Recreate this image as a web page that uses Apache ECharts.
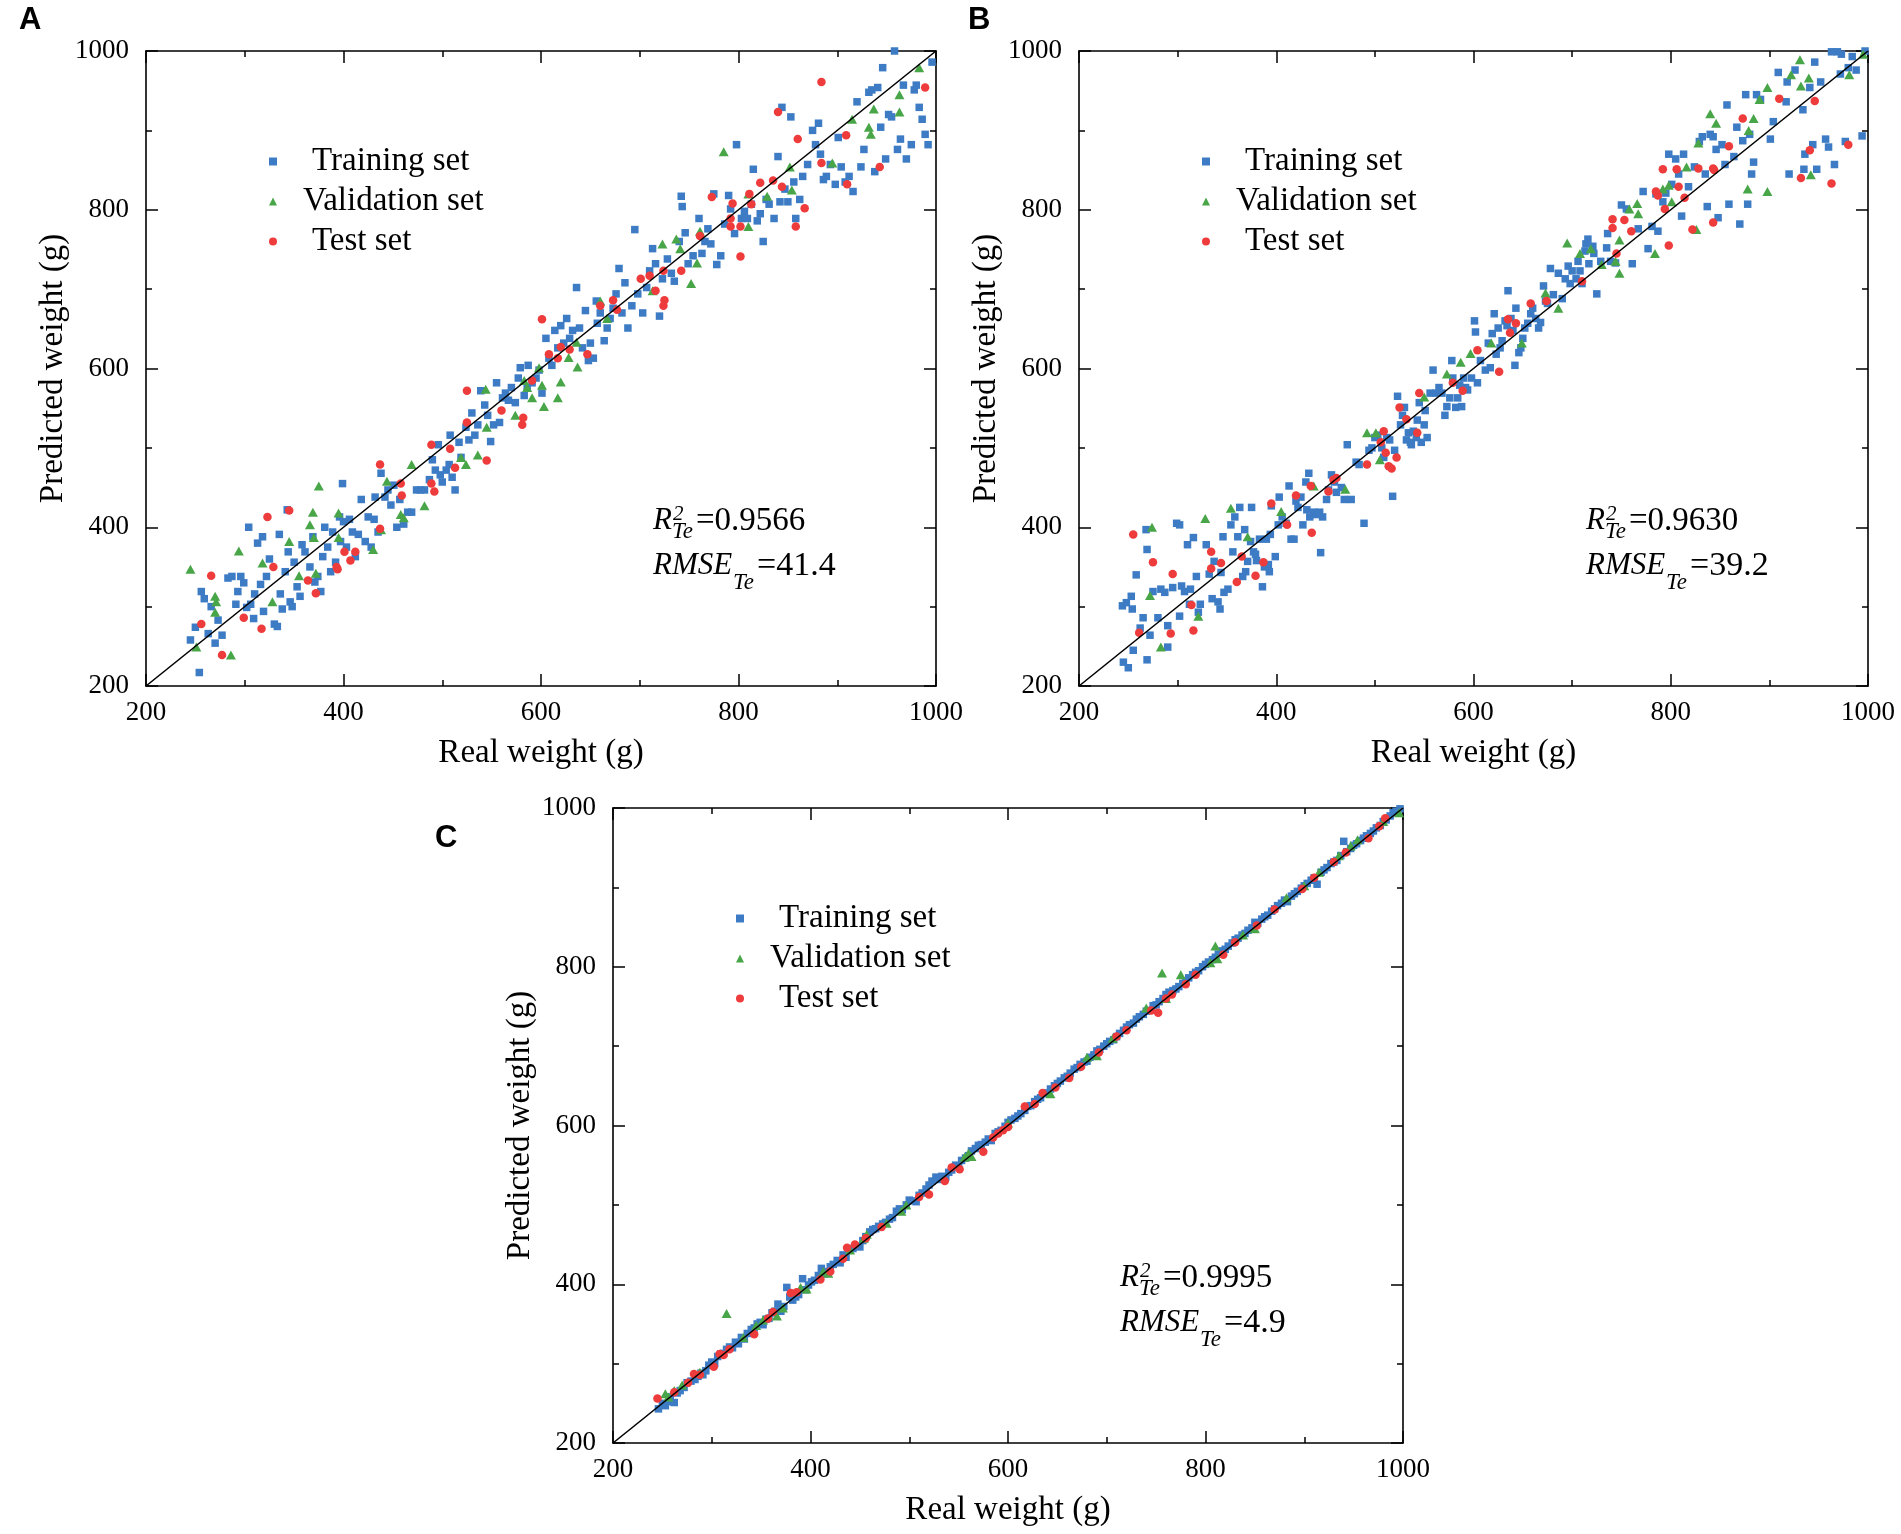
<!DOCTYPE html>
<html>
<head>
<meta charset="utf-8">
<title>Real vs predicted weight</title>
<script src="https://cdn.jsdelivr.net/npm/echarts@6.0.0/dist/echarts.min.js"></script>
<style>
  html, body { margin: 0; padding: 0; background: #fff; }
  #chart { width: 1901px; height: 1534px; }
</style>
</head>
<body>
<div id="chart"></div>
<script>
// axis range shared by all three panels
const axisMin = 200
const axisMax = 1000
const axisStep = 200
const identityLine = [[200, 200], [1000, 1000]]

const panelLabels = ['A', 'B', 'C']
const seriesNames = ['Training set', 'Validation set', 'Test set']
const r2Values = ['0.9566', '0.9630', '0.9995']
const rmseValues = ['41.4', '39.2', '4.9']

// ---- panel A : [real, predicted]
const trainA = [[245,258],[254,217],[250,274],[256,319],[259,310],[263,266],[266,300],[270,254],[273,283],[277,264],[283,336],[287,338],[291,303],[293,319],[296,338],[299,330],[302,299],[304,400],[306,303],[309,285],[310,316],[313,380],[316,328],[318,388],[319,294],[322,338],[325,360],[330,278],[333,275],[335,391],[336,316],[338,297],[341,344],[343,422],[344,369],[346,306],[348,300],[350,356],[353,325],[356,313],[358,378],[361,369],[366,350],[369,388],[371,331],[374,338],[377,319],[379,363],[381,400],[384,375],[387,344],[389,394],[392,356],[396,413],[397,382],[399,455],[400,407],[403,375],[406,410],[409,394],[412,363],[415,391],[418,435],[422,382],[425,413],[428,375],[431,410],[432,438],[435,394],[438,468],[442,438],[445,447],[448,428],[451,453],[454,400],[457,435],[461,404],[465,419],[469,419],[474,447],[478,447],[482,447],[487,460],[490,485],[493,472],[496,504],[498,466],[500,457],[504,472],[507,479],[508,516],[510,463],[513,447],[517,507],[519,488],[524,526],[527,510],[530,544],[533,516],[536,529],[539,572],[543,554],[546,541],[549,508],[552,529],[555,582],[558,532],[561,563],[564,569],[567,560],[570,576],[574,557],[577,588],[579,601],[583,566],[586,576],[587,604],[591,582],[595,588],[598,598],[601,569],[605,638],[608,613],[611,604],[614,648],[617,626],[620,654],[623,632],[626,663],[629,638],[632,648],[636,702],[639,651],[642,626],[645,673],[648,610],[650,632],[653,613],[656,685],[657,657],[660,670],[664,635],[667,651],[670,663],[673,676],[676,694],[679,726],[682,670],[685,708],[688,651],[692,679],[695,775],[698,694],[703,670],[707,702],[710,723],[713,751],[716,732],[720,666],[723,713],[728,738],[732,720],[735,710],[740,760],[742,817],[743,804],[746,771],[749,732],[754,742],[760,789],[763,745],[766,760],[769,776],[772,757],[775,820],[778,731],[782,742],[786,782],[790,818],[792,801],[796,770],[798,882],[803,789],[806,798],[809,789],[813,807],[815,851],[819,786],[822,795],[825,760],[828,813],[831,807],[836,789],[840,867],[842,810],[844,929],[847,826],[850,810],[853,917],[856,835],[858,789],[862,813],[865,842],[870,857],[875,900],[878,882],[881,909],[883,870],[886,838],[889,842],[893,857],[898,832],[901,891],[904,854],[908,835],[912,842],[916,823],[920,936],[924,854],[927,876],[932,948],[935,951],[938,848],[941,954],[944,904],[946,979],[949,864],[952,920],[955,917],[958,1000],[961,876],[964,889],[967,957],[970,864],[975,882],[978,951],[980,957],[983,929],[986,914],[989,895],[992,882],[996,986]]
const valA = [[245,347],[251,249],[270,313],[271,306],[270,293],[286,239],[294,370],[318,355],[328,306],[345,382],[355,339],[366,403],[369,419],[370,387],[372,342],[375,452],[395,418],[395,387],[430,372],[438,397],[444,458],[458,416],[461,412],[469,479],[482,427],[519,488],[524,479],[536,491],[544,574],[545,526],[574,541],[583,585],[586,576],[591,563],[598,601],[601,579],[603,552],[617,563],[620,583],[628,614],[636,633],[637,602],[660,685],[667,663],[713,698],[723,757],[737,763],[741,751],[752,707],[758,733],[761,773],[785,873],[810,779],[810,820],[829,817],[852,854],[854,825],[895,859],[915,914],[932,904],[934,895],[937,927],[963,945],[963,923],[983,979]]
const testA = [[256,278],[266,339],[277,239],[299,286],[317,272],[323,413],[329,350],[345,421],[364,333],[372,317],[393,350],[394,347],[401,369],[407,358],[412,369],[437,398],[437,479],[458,455],[459,440],[489,504],[489,455],[492,445],[508,499],[513,475],[525,572],[525,532],[545,484],[560,547],[581,529],[582,538],[591,585],[601,662],[608,618],[617,613],[620,627],[629,624],[647,618],[660,679],[673,686],[677,674],[701,713],[710,717],[716,698],[724,723],[724,679],[725,686],[742,723],[761,767],[773,816],[792,789],[792,779],[794,808],[802,779],[802,741],[811,820],[813,807],[822,834],[835,837],[840,923],[844,829],[858,779],[860,889],[867,802],[884,961],[884,859],[909,894],[910,832],[943,854],[989,954]]

// ---- panel B
const trainB = [[244,301],[245,230],[248,305],[250,223],[253,313],[254,297],[255,245],[258,340],[262,273],[265,286],[268,397],[269,372],[269,233],[272,264],[275,319],[280,286],[283,322],[287,318],[290,276],[290,249],[295,324],[299,405],[302,403],[302,288],[304,326],[307,319],[310,378],[312,303],[313,322],[316,387],[319,338],[321,293],[323,303],[329,378],[332,341],[335,310],[337,357],[341,306],[343,297],[344,343],[346,388],[347,318],[351,322],[354,403],[356,369],[358,413],[361,388],[363,425],[366,338],[368,397],[369,344],[371,357],[374,382],[375,425],[377,369],[379,366],[380,358],[383,385],[386,325],[388,350],[390,385],[392,353],[393,344],[394,391],[395,427],[399,363],[402,403],[403,438],[406,413],[410,405],[413,452],[415,385],[418,385],[420,433],[422,425],[425,438],[427,403],[430,457],[431,422],[433,468],[434,413],[438,419],[441,416],[444,419],[445,368],[447,413],[451,435],[453,447],[456,466],[459,457],[461,444],[466,450],[469,435],[472,504],[476,435],[481,482],[484,479],[489,405],[494,497],[497,500],[500,513],[503,516],[507,500],[509,488],[512,513],[515,510],[518,439],[520,497],[523,565],[526,529],[528,541],[530,551],[532,510],[534,519],[536,507],[537,504],[539,521],[542,513],[543,535],[545,557],[547,507],[550,529],[551,547],[553,513],[556,569],[559,598],[562,569],[565,576],[568,569],[571,541],[573,552],[576,563],[578,610],[579,588],[582,551],[584,563],[586,579],[588,552],[590,588],[592,576],[594,573],[598,588],[601,660],[602,646],[604,582],[607,610],[612,598],[615,632],[617,601],[619,644],[621,669],[623,618],[625,651],[627,626],[629,635],[632,660],[634,654],[635,698],[638,663],[640,648],[642,604],[643,676],[646,620],[648,626],[650,638],[652,651],[655,657],[658,669],[660,676],[663,663],[666,651],[668,658],[671,704],[673,685],[675,682],[678,726],[681,693],[686,720],[690,688],[693,713],[696,729],[698,707],[700,723],[704,713],[706,735],[708,723],[710,707],[713,748],[714,757],[716,763],[717,732],[721,754],[722,745],[725,694],[729,735],[735,752],[736,770],[739,735],[744,733],[750,806],[755,801],[761,732],[767,776],[772,823],[777,751],[781,779],[785,820],[787,773],[792,810],[795,821],[798,870],[801,832],[805,864],[808,845],[811,792],[813,870],[818,829],[824,854],[829,886],[832,892],[835,845],[837,804],[840,895],[843,892],[846,876],[848,790],[852,882],[855,857],[857,932],[859,807],[864,867],[867,904],[870,782],[873,887],[876,945],[878,807],[880,895],[882,845],[884,860],[887,945],[891,939],[901,889],[904,911],[909,973],[917,936],[920,845],[918,961],[926,976],[934,926],[935,851],[936,870],[941,954],[944,882],[946,986],[948,851],[952,961],[957,889],[960,879],[963,999],[966,857],[969,999],[972,971],[973,996],[977,886],[980,979],[984,993],[988,976],[994,893],[997,1000]]
const valB = [[272,314],[274,400],[283,249],[321,288],[328,411],[354,424],[371,388],[405,420],[438,452],[470,448],[492,519],[501,519],[505,485],[550,564],[573,593],[587,608],[597,619],[618,632],[649,632],[673,695],[686,676],[695,758],[708,745],[719,751],[730,731],[744,735],[748,762],[748,720],[758,801],[766,808],[767,795],[784,745],[792,826],[798,831],[801,810],[816,854],[826,775],[828,884],[840,921],[846,909],[878,826],[879,900],[884,915],[890,939],[898,823],[898,954],[922,970],[931,989],[932,956],[940,966],[942,844],[981,970],[995,996]]
const testB = [[255,391],[261,267],[275,356],[293,266],[295,341],[314,302],[316,270],[334,369],[334,348],[344,355],[360,331],[365,363],[379,339],[387,356],[395,430],[411,403],[420,440],[436,393],[435,452],[453,445],[458,460],[461,462],[492,479],[506,507],[509,521],[511,494],[514,477],[517,474],[522,488],[525,551],[532,536],[543,519],[545,569],[579,582],[589,572],[604,623],[626,596],[635,662],[637,645],[643,657],[658,682],[674,685],[710,710],[741,788],[741,777],[745,745],[753,787],[760,773],[785,823],[787,818],[792,851],[794,801],[798,755],[806,851],[808,829],[814,815],[822,775],[828,852],[843,852],[844,850],[843,784],[859,880],[873,915],[910,940],[932,840],[941,875],[946,937],[963,833],[980,882]]

// ---- panel C
const trainC = [[246,243],[250,250],[253,247],[257,252],[258,258],[262,251],[265,263],[268,266],[272,270],[275,276],[279,278],[283,280],[286,284],[289,288],[291,286],[294,291],[297,298],[300,302],[303,300],[306,309],[309,312],[312,313],[315,318],[318,321],[321,320],[324,327],[327,325],[330,333],[333,331],[336,338],[340,343],[343,345],[346,350],[349,352],[352,349],[355,356],[358,357],[361,364],[364,366],[367,375],[370,366],[373,372],[376,396],[379,384],[382,380],[385,384],[388,387],[392,407],[395,393],[398,399],[401,403],[404,405],[408,411],[411,420],[414,413],[417,416],[420,422],[423,425],[427,430],[430,427],[433,437],[436,434],[440,443],[443,445],[446,448],[450,447],[453,455],[456,460],[460,466],[463,469],[466,470],[469,473],[473,476],[476,478],[480,482],[483,484],[487,492],[490,495],[493,494],[497,500],[500,506],[503,505],[507,504],[510,512],[513,515],[517,520],[520,525],[523,530],[527,535],[530,532],[533,536],[537,535],[540,541],[543,544],[547,550],[550,548],[553,556],[557,559],[560,562],[563,568],[567,571],[570,575],[573,576],[577,579],[580,583],[583,581],[587,590],[590,592],[593,594],[597,599],[600,604],[603,607],[607,609],[610,612],[613,615],[617,619],[620,624],[623,625],[627,630],[630,633],[633,635],[637,640],[640,641],[643,646],[647,650],[650,653],[653,656],[657,660],[660,662],[663,666],[667,671],[670,673],[673,677],[677,680],[680,681],[683,686],[687,689],[690,694],[693,696],[697,700],[700,703],[703,706],[707,708],[710,712],[713,716],[717,720],[720,724],[723,727],[727,729],[730,734],[733,737],[737,740],[740,744],[743,745],[747,751],[750,752],[753,756],[757,760],[760,765],[763,768],[767,770],[770,772],[773,775],[777,779],[780,782],[783,786],[787,790],[790,793],[793,795],[797,800],[800,803],[803,806],[807,809],[810,812],[813,816],[817,820],[820,822],[823,826],[827,830],[830,834],[833,836],[837,840],[840,842],[843,846],[847,849],[850,856],[853,855],[857,860],[860,863],[863,865],[867,870],[870,873],[873,877],[877,880],[880,884],[883,882],[887,889],[890,892],[893,895],[897,899],[900,902],[903,905],[907,909],[910,912],[913,904],[917,919],[920,922],[923,925],[927,930],[930,932],[933,934],[937,940],[940,958],[943,945],[947,949],[950,953],[953,955],[957,959],[960,962],[963,965],[967,968],[970,971],[973,975],[977,978],[980,983],[983,985],[987,990],[990,994],[993,996],[997,999]]
const valC = [[253,262],[256,258],[262,266],[270,273],[288,289],[315,363],[332,333],[345,348],[352,355],[366,360],[372,370],[390,396],[396,394],[413,416],[418,414],[440,443],[454,458],[457,463],[477,477],[492,492],[497,500],[556,560],[560,565],[563,561],[600,603],[643,640],[680,686],[690,688],[706,710],[740,748],[756,792],[760,760],[775,790],[805,805],[810,826],[812,810],[838,840],[850,848],[882,887],[900,902],[915,919],[935,940],[947,952],[954,960],[980,983],[996,994]]
const testC = [[245,256],[262,264],[276,276],[282,287],[288,286],[302,296],[308,312],[312,311],[318,318],[343,337],[357,357],[362,365],[380,389],[386,390],[410,406],[420,416],[433,432],[437,446],[445,450],[456,458],[472,472],[510,510],[520,513],[536,530],[543,547],[551,545],[575,567],[585,585],[590,590],[595,594],[600,598],[617,624],[627,627],[635,641],[648,648],[662,660],[674,674],[692,692],[710,712],[720,720],[745,745],[752,742],[760,760],[766,765],[780,778],[790,790],[818,815],[830,831],[852,852],[870,872],[898,898],[910,912],[930,932],[942,944],[965,962],[976,977],[982,987]]

const panelSeries = [
  [trainA, valA, testA],
  [trainB, valB, testB],
  [trainC, valC, testC]
]

// 画布布局（像素）
const panelBoxes = [
  { left: 146, top: 51, width: 790, height: 635 },
  { left: 1079, top: 51, width: 789, height: 635 },
  { left: 613, top: 808, width: 790, height: 635 }
]
const letterPos = [[19, 20], [968, 20], [435, 838]]

const SERIF = 'Liberation Serif'
const COLORS = ['#3d7cc5', '#48a648', '#ee3b3b']
const SYMBOLS = ['rect', 'triangle', 'circle']
const SYMBOL_SIZES = [7.5, [10, 9], 8.5]
const black = '#000'

/**
 * 一个坐标轴（底/顶/左/右），顶和右只画刻度
 */
const makeAxis = (gridIndex, position, withLabel, name) => {
  const vertical = position === 'left' || position === 'right'
  return {
    type: 'value',
    gridIndex,
    position,
    min: axisMin,
    max: axisMax,
    interval: axisStep,
    name: withLabel ? name : '',
    nameLocation: 'middle',
    nameGap: vertical ? 76 : 51,
    nameTextStyle: { fontFamily: SERIF, fontSize: 33, color: black },
    axisLine: { show: true, onZero: false, lineStyle: { color: black, width: 1.6 } },
    axisTick: { show: true, inside: true, length: 12, lineStyle: { color: black, width: 1.5 } },
    minorTick: { show: true, splitNumber: 2, length: 6, lineStyle: { color: black, width: 1.5 } },
    splitLine: { show: false },
    axisLabel: {
      show: withLabel,
      margin: vertical ? 17 : 13,
      fontFamily: SERIF,
      fontSize: 27,
      color: black,
      formatter: v => String(v)
    }
  }
}

const xAxes = []
const yAxes = []
const series = []
const legends = []
const graphics = []

panelBoxes.forEach((box, i) => {
  xAxes.push(makeAxis(i, 'bottom', true, 'Real weight (g)'))
  xAxes.push(makeAxis(i, 'top', false))
  yAxes.push(makeAxis(i, 'left', true, 'Predicted weight (g)'))
  yAxes.push(makeAxis(i, 'right', false))

  panelSeries[i].forEach((points, k) => {
    series.push({
      type: 'scatter',
      name: seriesNames[k],
      xAxisIndex: i * 2,
      yAxisIndex: i * 2,
      data: points,
      symbol: SYMBOLS[k],
      symbolSize: SYMBOL_SIZES[k],
      itemStyle: { color: COLORS[k], opacity: 1 }
    })
  })

  // 1:1 线，画在点的上面
  series.push({
    type: 'line',
    xAxisIndex: i * 2,
    yAxisIndex: i * 2,
    data: identityLine,
    symbol: 'none',
    silent: true,
    z: 5,
    lineStyle: { color: black, width: 1.6 }
  })

  legends.push({
    orient: 'vertical',
    left: box.left + 118,
    top: box.top + 89,
    itemWidth: 8,
    itemHeight: 8,
    itemGap: 7,
    selectedMode: false,
    textStyle: { fontFamily: SERIF, fontSize: 33, lineHeight: 33, color: black },
    data: seriesNames.map((name, k) => ({
      name,
      icon: SYMBOLS[k],
      textStyle: { padding: [0, 0, 0, k === 1 ? 21 : 30] }
    }))
  })

  // R² 和 RMSE 注释
  const txt = (text, dx, dy, size, italic) => ({
    type: 'text',
    x: box.left + dx,
    y: box.top + dy,
    silent: true,
    style: {
      text,
      fontFamily: SERIF,
      fontSize: size,
      fontStyle: italic ? 'italic' : 'normal',
      fill: black,
      align: 'left',
      verticalAlign: 'middle'
    }
  })
  graphics.push(
    txt('R', 507, 470, 31, true),
    txt('2', 527, 463, 21, true),
    txt('Te', 526, 481, 23, true),
    txt('=' + r2Values[i], 550, 470, 33, false),
    txt('RMSE', 507, 515, 31, true),
    txt('Te', 587, 532, 23, true),
    txt('=' + rmseValues[i], 611, 515, 34, false)
  )

  graphics.push({
    type: 'text',
    x: letterPos[i][0],
    y: letterPos[i][1],
    silent: true,
    style: {
      text: panelLabels[i],
      fontFamily: 'Liberation Sans',
      fontWeight: 'bold',
      fontSize: 31,
      fill: black,
      align: 'left',
      verticalAlign: 'middle'
    }
  })
})

const chart = echarts.init(document.getElementById('chart'), null, { renderer: 'canvas' })
chart.setOption({
  backgroundColor: '#fff',
  animation: false,
  textStyle: { fontFamily: SERIF, color: black },
  grid: panelBoxes.map(b => ({ ...b, containLabel: false })),
  xAxis: xAxes,
  yAxis: yAxes,
  legend: legends,
  series,
  graphic: graphics
})
</script>
</body>
</html>
